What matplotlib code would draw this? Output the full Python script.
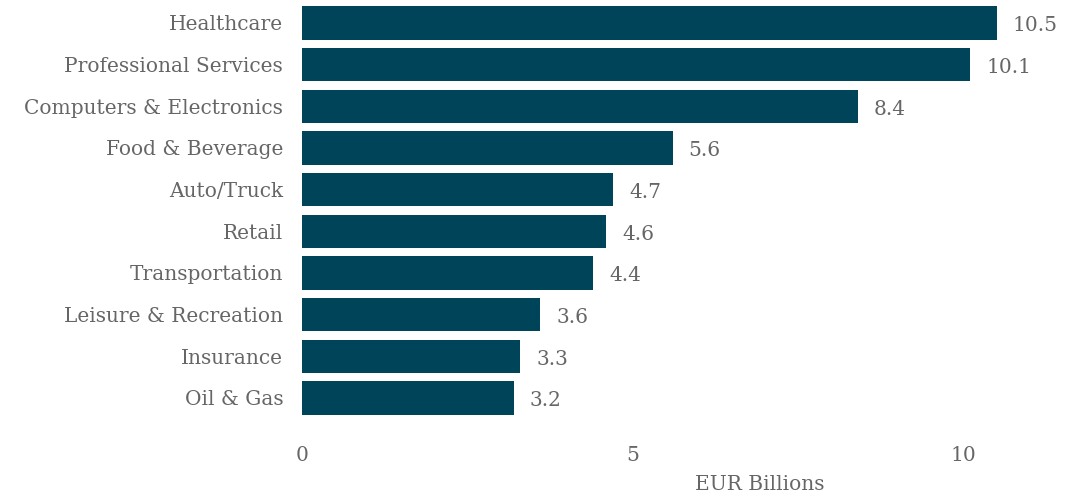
import matplotlib
matplotlib.use("Agg")
import matplotlib.pyplot as plt

categories = ["Healthcare", "Professional Services", "Computers & Electronics",
              "Food & Beverage", "Auto/Truck", "Retail", "Transportation",
              "Leisure & Recreation", "Insurance", "Oil & Gas"]
values = [10.5, 10.1, 8.4, 5.6, 4.7, 4.6, 4.4, 3.6, 3.3, 3.2]
xticks = [0, 5, 10]
xlabel = "EUR Billions"

plt.rcParams['font.family'] = ['DejaVu Serif']
W, H = 1080, 496
fig = plt.figure(figsize=(W / 100, H / 100), dpi=100)
left, right, top, bottom = 302, 1063, 0, 435
ax = fig.add_axes([left / W, 1 - bottom / H, (right - left) / W, (bottom - top) / H])

bar_color = "#00445a"
text_color = "#666666"
fs = 14.5
ypos = list(range(len(categories)))
ax.barh(ypos, values, height=0.8, color=bar_color)
ax.set_xlim(0, 11.5)
ax.set_ylim(9.89, -0.552)
ax.set_yticks(ypos)
ax.set_yticklabels(categories, fontsize=fs, color=text_color)
ax.set_xticks(xticks)
ax.set_xticklabels([str(t) for t in xticks], fontsize=fs, color=text_color)
ax.tick_params(axis='both', length=0)
ax.tick_params(axis='y', pad=13.5)
ax.tick_params(axis='x', pad=8)
for s in ax.spines.values():
    s.set_visible(False)

for y, v in zip(ypos, values):
    ax.annotate(f"{v}", xy=(v, y), xytext=(11.5, -2), textcoords="offset points",
                ha="left", va="center", fontsize=fs, color=text_color)

ax.set_xlabel(xlabel, fontsize=fs, color=text_color)
ax.xaxis.set_label_coords((760 - left) / (right - left), -0.093)

fig.savefig("out.png", dpi=100)
